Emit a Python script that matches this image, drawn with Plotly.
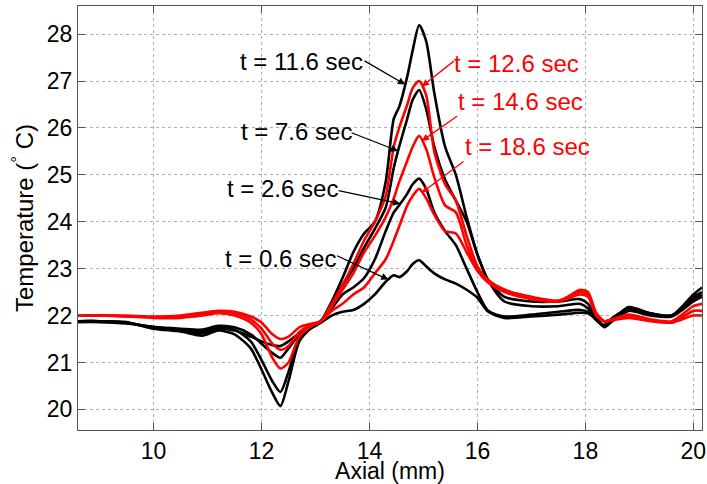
import numpy as np
import plotly.graph_objects as go

# Axial positions (mm)
axial = [8.6, 9.0, 9.5, 10.0, 10.5, 10.9, 11.2, 11.5, 11.8, 12.0, 12.2, 12.35, 12.5, 12.7, 12.9,
         13.1, 13.3, 13.5, 13.7, 13.9, 14.1, 14.3, 14.45, 14.55, 14.7, 14.8, 14.92, 15.05, 15.2,
         15.4, 15.6, 15.8, 16.0, 16.2, 16.5, 17.0, 17.5, 17.9, 18.05, 18.2, 18.35, 18.5, 18.8,
         19.2, 19.6, 20.0, 20.16]

# Temperature profiles (deg C)
t_0_6 = [21.88, 21.88, 21.85, 21.74, 21.68, 21.62, 21.72, 21.68, 21.55, 21.45, 21.37, 21.35, 21.45,
         21.62, 21.72, 21.85, 22.0, 22.08, 22.12, 22.25, 22.45, 22.72, 22.86, 22.82, 22.95, 23.1,
         23.18, 23.05, 22.9, 22.77, 22.68, 22.55, 22.38, 22.08, 21.95, 21.98, 22.02, 22.06, 22.05,
         21.92, 21.75, 21.88, 22.1, 22.0, 21.98, 22.3, 22.4]
t_2_6 = [21.86, 21.86, 21.83, 21.76, 21.72, 21.7, 21.78, 21.75, 21.6, 21.4, 21.2, 21.1, 21.3,
         21.6, 21.75, 21.88, 22.15, 22.45, 22.6, 22.8, 23.2, 23.8, 24.2, 24.35, 24.6, 24.8,
         24.92, 24.7, 24.2, 23.8, 23.5, 23.0, 22.5, 22.1, 21.98, 22.02, 22.08, 22.12, 22.08,
         21.9, 21.78, 21.9, 22.12, 22.02, 22.0, 22.35, 22.45]
t_7_6 = [21.88, 21.88, 21.84, 21.75, 21.7, 21.65, 21.75, 21.7, 21.45, 21.05, 20.6, 20.37, 20.8,
         21.5, 21.72, 21.88, 22.25, 22.65, 23.0, 23.45, 23.85, 24.3, 25.15, 25.6, 26.2, 26.6,
         26.81, 26.4, 25.6, 24.9, 24.45, 24.0, 23.3, 22.75, 22.3, 22.2, 22.2, 22.25, 22.15,
         21.92, 21.8, 21.95, 22.15, 22.05, 22.0, 22.4, 22.5]
t_11_6 = [21.88, 21.88, 21.86, 21.72, 21.66, 21.57, 21.68, 21.6, 21.3, 20.85, 20.35, 20.07, 20.6,
          21.45, 21.72, 21.88, 22.3, 22.8, 23.35, 23.75, 24.0, 24.85, 26.2, 26.45, 27.1, 27.65,
          28.19, 27.85, 26.75, 25.6, 25.0, 24.1, 23.3, 22.75, 22.4, 22.3, 22.3, 22.35, 22.25,
          21.95, 21.78, 21.9, 22.18, 22.05, 22.0, 22.45, 22.6]
t_12_6 = [22.0, 22.0, 21.98, 21.95, 21.95, 22.0, 22.05, 22.0, 21.85, 21.6, 21.1, 20.87, 21.0,
          21.55, 21.75, 21.88, 22.25, 22.65, 23.1, 23.6, 24.0, 24.55, 25.6, 26.0, 26.5, 26.85,
          27.0, 26.7, 25.5, 24.8, 24.45, 23.7, 23.05, 22.75, 22.55, 22.38, 22.3, 22.55, 22.5,
          22.05, 21.88, 21.92, 22.02, 21.92, 21.88, 22.2, 22.25]
t_14_6 = [22.0, 22.0, 21.98, 21.97, 21.98, 22.03, 22.08, 22.05, 21.92, 21.72, 21.4, 21.27, 21.35,
          21.65, 21.8, 21.88, 22.2, 22.55, 22.9, 23.35, 23.7, 24.1, 24.5, 24.85, 25.3, 25.6,
          25.83, 25.55, 24.95, 24.35, 24.2, 23.5, 23.0, 22.75, 22.55, 22.4, 22.32, 22.5, 22.45,
          22.05, 21.88, 21.92, 22.0, 21.9, 21.85, 22.1, 22.1]
t_18_6 = [22.0, 22.0, 22.0, 21.98, 22.0, 22.06, 22.1, 22.08, 21.98, 21.85, 21.6, 21.5, 21.55,
          21.75, 21.82, 21.88, 22.1, 22.25, 22.45, 22.6, 22.9, 23.2, 23.6, 23.9, 24.35, 24.55,
          24.7, 24.5, 24.15, 23.8, 23.75, 23.35, 22.95, 22.7, 22.5, 22.35, 22.3, 22.45, 22.4,
          22.0, 21.87, 21.9, 21.95, 21.88, 21.85, 22.0, 22.0]

black_series = [("t = 0.6 sec", t_0_6), ("t = 2.6 sec", t_2_6),
                ("t = 7.6 sec", t_7_6), ("t = 11.6 sec", t_11_6)]
red_series = [("t = 12.6 sec", t_12_6), ("t = 14.6 sec", t_14_6), ("t = 18.6 sec", t_18_6)]

# Label placement: (label, series, text x, text y, arrow tail x, tail y, arrow head x, colour)
labels = [
    ("t = 11.6 sec", t_11_6, 12.74, 27.41, 13.88, 27.45, 14.66, "#000000"),
    ("t = 7.6 sec", t_7_6, 12.65, 25.92, 13.64, 25.91, 14.53, "#000000"),
    ("t = 2.6 sec", t_2_6, 12.39, 24.71, 13.40, 24.67, 14.57, "#000000"),
    ("t = 0.6 sec", t_0_6, 12.36, 23.22, 13.37, 23.29, 14.35, "#000000"),
    ("t = 12.6 sec", t_12_6, 16.72, 27.38, 15.59, 27.45, 14.97, "#ff0000"),
    ("t = 14.6 sec", t_14_6, 16.80, 26.56, 15.65, 26.27, 14.97, "#ff0000"),
    ("t = 18.6 sec", t_18_6, 16.92, 25.60, 15.77, 25.31, 14.97, "#ff0000"),
]

FONT = "Arial, 'Liberation Sans', sans-serif"

fig = go.Figure()
for name, ys in black_series:
    fig.add_trace(go.Scatter(x=axial, y=ys, mode="lines", name=name,
                             line=dict(color="#000000", width=2.6, shape="spline", smoothing=0.7)))
for name, ys in red_series:
    fig.add_trace(go.Scatter(x=axial, y=ys, mode="lines", name=name,
                             line=dict(color="#ff0000", width=2.6, shape="spline", smoothing=0.7)))

annotations = []
for text, ys, tx, ty, ax_, ay_, hx, col in labels:
    hy = float(np.interp(hx, axial, ys))
    annotations.append(dict(x=tx, y=ty, xref="x", yref="y", text=text, showarrow=False,
                            font=dict(family=FONT, size=24, color=col)))
    annotations.append(dict(x=hx, y=hy, xref="x", yref="y", ax=ax_, ay=ay_, axref="x", ayref="y",
                            text="", showarrow=True, arrowhead=2, arrowsize=1.1, arrowwidth=1.3,
                            arrowcolor=col))

axis_common = dict(showline=True, linecolor="#555555", linewidth=1, mirror="ticks",
                   ticks="inside", ticklen=7, tickcolor="#555555", tickwidth=1,
                   showgrid=True, gridcolor="#b0b0b0", griddash="dot", gridwidth=1,
                   zeroline=False, automargin=False,
                   tickfont=dict(family=FONT, size=23, color="#000000"))

fig.update_layout(
    width=707, height=484,
    margin=dict(l=78, r=5, t=6, b=54),
    paper_bgcolor="white", plot_bgcolor="white",
    showlegend=False,
    annotations=annotations,
    xaxis=dict(range=[8.6, 20.16], tickvals=[10, 12, 14, 16, 18, 20],
               title=dict(text="Axial (mm)", font=dict(family=FONT, size=23, color="#000000"), standoff=0),
               **axis_common),
    yaxis=dict(range=[19.56, 28.6], tickvals=[20, 21, 22, 23, 24, 25, 26, 27, 28],
               title=dict(text="Temperature (<sup>°</sup> C)", font=dict(family=FONT, size=24, color="#000000"), standoff=6),
               **axis_common),
)

fig.write_html("out.html")
